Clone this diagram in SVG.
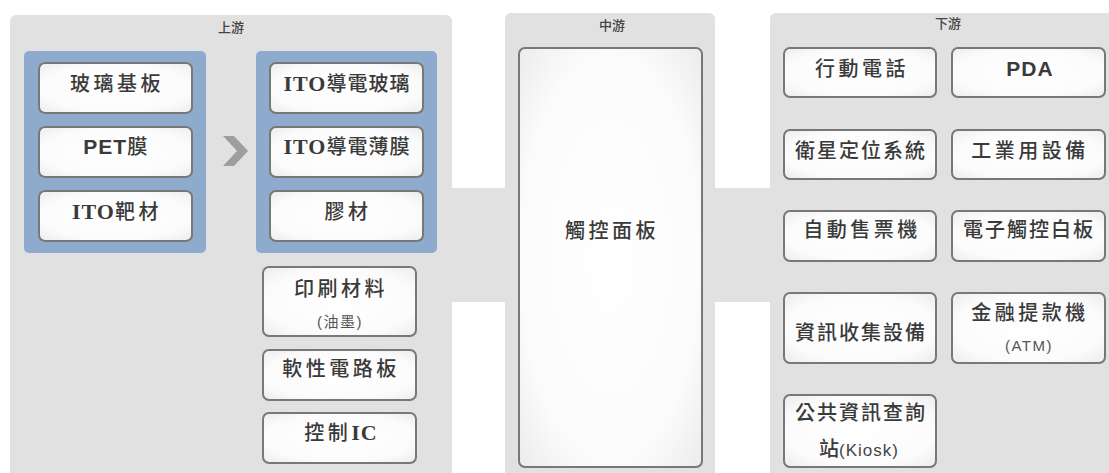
<svg xmlns="http://www.w3.org/2000/svg" width="1109" height="473" viewBox="0 0 1109 473">
<defs>
<radialGradient id="bg" cx="50%" cy="50%" r="70%">
<stop offset="0" stop-color="#ffffff"/>
<stop offset="0.7" stop-color="#fbfbfb"/>
<stop offset="1" stop-color="#ececec"/>
</radialGradient>
<style>
.panel{fill:#e1e1e1}
.blue{fill:#8eaacd}
.box{fill:url(#bg);stroke:#787878;stroke-width:2}
.t{font-family:"Noto Sans CJK TC","Noto Sans CJK SC",sans-serif;font-size:20px;font-weight:500;fill:#3a3a3a;letter-spacing:3.5px;text-anchor:middle}
.s{font-family:"Liberation Sans","Noto Sans CJK TC",sans-serif;font-size:15px;font-weight:400;fill:#555;letter-spacing:1.5px;text-anchor:middle}
.lab{font-family:"Noto Sans CJK TC",sans-serif;font-size:13px;font-weight:500;fill:#444;text-anchor:middle}
.ser{font-family:"Liberation Serif",serif;font-weight:700;font-size:22px;letter-spacing:1px}
.san{font-family:"Liberation Sans",sans-serif;font-weight:700;font-size:21px;letter-spacing:1px}
</style>
</defs>
<rect width="1109" height="473" fill="#ffffff"/>
<g id="panels">
<rect class="panel" x="10" y="188" width="1099" height="114"/>
<rect class="panel" x="10" y="15" width="442" height="470" rx="6"/>
<rect class="panel" x="505" y="13" width="210" height="470" rx="6"/>
<rect class="panel" x="770" y="13" width="345" height="470" rx="6"/>
<text class="lab" x="231" y="32">上游</text>
<text class="lab" x="612" y="30">中游</text>
<text class="lab" x="948" y="28">下游</text>
<rect class="blue" x="24" y="51" width="182" height="202" rx="5"/>
<rect class="blue" x="256" y="51" width="181" height="202" rx="5"/>
</g>
<g id="connectors">
<polygon points="223,136 234,136 248,151 234,166 223,166 237,151" fill="#9e9e9e"/>
</g>
<g id="n-glass"><rect class="box" x="39" y="63" width="153" height="50" rx="6"/><text class="t" x="117" y="91">玻璃基板</text></g>
<g id="n-pet"><rect class="box" x="39" y="127" width="153" height="50" rx="6"/><text class="t" x="117" y="154"><tspan class="san">PET</tspan>膜</text></g>
<g id="n-ito-target"><rect class="box" x="39" y="191" width="153" height="50" rx="6"/><text class="t" x="117" y="219"><tspan class="ser">ITO</tspan>靶材</text></g>
<g id="n-ito-glass"><rect class="box" x="270" y="63" width="153" height="50" rx="6"/><text class="t" x="347" y="91" style="letter-spacing:1px"><tspan class="ser">ITO</tspan>導電玻璃</text></g>
<g id="n-ito-film"><rect class="box" x="270" y="127" width="153" height="50" rx="6"/><text class="t" x="347" y="154" style="letter-spacing:1px"><tspan class="ser">ITO</tspan>導電薄膜</text></g>
<g id="n-glue"><rect class="box" x="270" y="191" width="153" height="50" rx="6"/><text class="t" x="348" y="219">膠材</text></g>
<g id="n-print"><rect class="box" x="263" y="267" width="153" height="69" rx="6"/><text class="t" x="341" y="296">印刷材料</text><text class="s" x="340" y="327">(油墨)</text></g>
<g id="n-fpc"><rect class="box" x="263" y="350" width="153" height="50" rx="6"/><text class="t" x="341" y="376">軟性電路板</text></g>
<g id="n-ic"><rect class="box" x="263" y="413" width="153" height="50" rx="6"/><text class="t" x="341" y="440">控制<tspan class="ser">IC</tspan></text></g>
<g id="n-panel"><rect class="box" x="519" y="48" width="183" height="419" rx="6"/><text class="t" x="612" y="238">觸控面板</text></g>
<g id="n-phone"><rect class="box" x="784" y="48" width="152" height="49" rx="6"/><text class="t" x="862" y="76">行動電話</text></g>
<g id="n-pda"><rect class="box" x="952" y="48" width="153" height="49" rx="6"/><text class="t" x="1030" y="76"><tspan class="san">PDA</tspan></text></g>
<g id="n-gps"><rect class="box" x="784" y="130" width="152" height="49" rx="6"/><text class="t" x="861" y="158" style="letter-spacing:2px">衛星定位系統</text></g>
<g id="n-industrial"><rect class="box" x="952" y="130" width="153" height="49" rx="6"/><text class="t" x="1030" y="158">工業用設備</text></g>
<g id="n-ticket"><rect class="box" x="784" y="211" width="152" height="50" rx="6"/><text class="t" x="862" y="237">自動售票機</text></g>
<g id="n-whiteboard"><rect class="box" x="952" y="211" width="153" height="50" rx="6"/><text class="t" x="1029" y="237" style="letter-spacing:2px">電子觸控白板</text></g>
<g id="n-data"><rect class="box" x="784" y="293" width="152" height="70" rx="6"/><text class="t" x="861" y="340" style="letter-spacing:2px">資訊收集設備</text></g>
<g id="n-atm"><rect class="box" x="952" y="293" width="153" height="70" rx="6"/><text class="t" x="1030" y="320">金融提款機</text><text class="s" x="1029" y="351">(ATM)</text></g>
<g id="n-kiosk"><rect class="box" x="784" y="395" width="152" height="72" rx="6"/><text class="t" x="861" y="420" style="letter-spacing:2px">公共資訊查詢</text><text class="t" x="859" y="456" style="letter-spacing:0">站<tspan style="font-family:'Liberation Sans',sans-serif;font-size:17px;font-weight:400;fill:#444;letter-spacing:1px">(Kiosk)</tspan></text></g>
</svg>
